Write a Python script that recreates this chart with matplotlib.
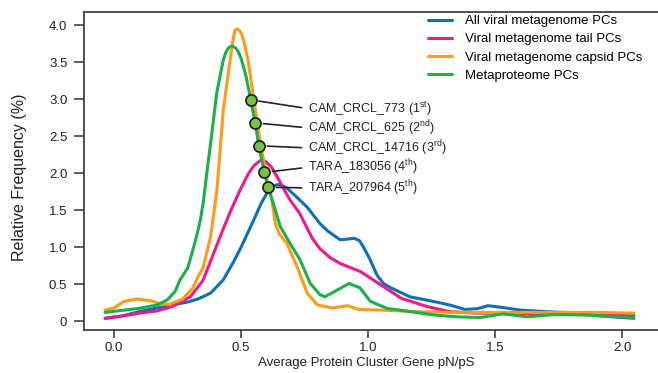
import matplotlib
matplotlib.use("Agg")
import matplotlib.pyplot as plt

plt.rcParams["font.family"] = ["Liberation Sans", "DejaVu Sans"]
plt.rcParams["mathtext.fontset"] = "custom"
plt.rcParams["mathtext.rm"] = "Liberation Sans"

# data
all_x = [-0.035, 0.03, 0.10, 0.17, 0.23, 0.29, 0.33, 0.38, 0.43, 0.47, 0.50, 0.55,
         0.58, 0.61, 0.625, 0.645, 0.66, 0.68, 0.73, 0.76, 0.81, 0.84, 0.89, 0.92,
         0.945, 0.965, 0.98, 1.005, 1.035, 1.06, 1.09, 1.165, 1.26, 1.32, 1.38,
         1.43, 1.47, 1.52, 1.6, 1.7, 1.81, 1.92, 2.045]
all_y = [0.04, 0.07, 0.13, 0.18, 0.22, 0.26, 0.30, 0.38, 0.56, 0.80, 1.00, 1.37,
         1.60, 1.78, 1.83, 1.845, 1.835, 1.80, 1.64, 1.54, 1.32, 1.22, 1.10, 1.11,
         1.12, 1.09, 1.01, 0.85, 0.62, 0.51, 0.45, 0.33, 0.265, 0.22, 0.16,
         0.17, 0.21, 0.19, 0.15, 0.13, 0.11, 0.07, 0.04]

tail_x = [-0.035, 0.05, 0.10, 0.17, 0.23, 0.30, 0.35, 0.39, 0.43, 0.46, 0.50, 0.53,
          0.55, 0.575, 0.595, 0.62, 0.65, 0.69, 0.73, 0.78, 0.81, 0.85, 0.89, 0.97,
          1.05, 1.13, 1.23, 1.32, 1.42, 1.55, 1.7, 1.85, 2.045]
tail_y = [0.04, 0.08, 0.11, 0.14, 0.20, 0.33, 0.55, 0.90, 1.25, 1.50, 1.80, 2.00,
          2.10, 2.17, 2.16, 2.08, 1.90, 1.65, 1.46, 1.12, 0.98, 0.86, 0.78, 0.67,
          0.49, 0.31, 0.20, 0.13, 0.11, 0.11, 0.10, 0.09, 0.08]

capsid_x = [-0.035, 0.00, 0.04, 0.09, 0.14, 0.19, 0.22, 0.27, 0.31, 0.335, 0.35,
            0.38, 0.405, 0.43, 0.457, 0.468, 0.476, 0.485, 0.495, 0.503, 0.515,
            0.529, 0.548, 0.568, 0.588, 0.605, 0.62, 0.635, 0.65, 0.68, 0.72,
            0.76, 0.80, 0.86, 0.92, 0.96, 1.06, 1.19, 1.32, 1.5, 1.7, 1.9, 2.045]
capsid_y = [0.15, 0.18, 0.27, 0.30, 0.28, 0.23, 0.23, 0.30, 0.45, 0.63, 0.72,
            1.14, 1.77, 2.86, 3.53, 3.80, 3.93, 3.95, 3.92, 3.87, 3.72,
            3.49, 3.04, 2.58, 2.18, 1.85, 1.65, 1.32, 1.18, 1.05, 0.74,
            0.38, 0.22, 0.18, 0.21, 0.16, 0.15, 0.13, 0.12, 0.12, 0.12, 0.12, 0.11]

meta_x = [-0.035, 0.10, 0.17, 0.21, 0.24, 0.26, 0.29, 0.31, 0.325, 0.34, 0.353,
          0.365, 0.38, 0.404, 0.43, 0.44, 0.45, 0.46, 0.47, 0.48, 0.489, 0.50,
          0.509, 0.52, 0.538, 0.555, 0.57, 0.591, 0.606, 0.627, 0.654, 0.693,
          0.732, 0.772, 0.81, 0.83, 0.877, 0.925, 0.968, 1.008, 1.073, 1.165,
          1.257, 1.35, 1.44, 1.53, 1.625, 1.73, 1.86, 2.045]
meta_y = [0.12, 0.175, 0.22, 0.29, 0.40, 0.56, 0.72, 0.96, 1.15, 1.37, 1.65,
          2.00, 2.40, 3.08, 3.53, 3.63, 3.69, 3.715, 3.71, 3.685, 3.64, 3.55,
          3.44, 3.30, 2.99, 2.68, 2.37, 2.01, 1.81, 1.59, 1.28, 1.05,
          0.83, 0.51, 0.36, 0.33, 0.42, 0.51, 0.45, 0.27, 0.175, 0.13,
          0.085, 0.06, 0.05, 0.10, 0.06, 0.09, 0.085, 0.05]

top_names = ["CAM_CRCL_773 (1$^{\\mathrm{st}}$)", "CAM_CRCL_625 (2$^{\\mathrm{nd}}$)",
             "CAM_CRCL_14716 (3$^{\\mathrm{rd}}$)", "TARA_183056 (4$^{\\mathrm{th}}$)",
             "TARA_207964 (5$^{\\mathrm{th}}$)"]
top_x = [0.538, 0.555, 0.57, 0.591, 0.606]
top_y = [2.99, 2.68, 2.37, 2.01, 1.81]
label_y = [2.87, 2.61, 2.34, 2.08, 1.80]

series = [
    (all_x, all_y, "All viral metagenome PCs", "#0b6fba"),
    (tail_x, tail_y, "Viral metagenome tail PCs", "#f0188c"),
    (capsid_x, capsid_y, "Viral metagenome capsid PCs", "#ff9a1a"),
    (meta_x, meta_y, "Metaproteome PCs", "#1bb04a"),
]

fig = plt.figure(figsize=(6.58, 3.73), dpi=100)
ax = fig.add_axes([84 / 658, 1 - 330 / 373, 574 / 658, 318.3 / 373])

for xs, ys, name, col in series:
    ax.plot(xs, ys, color=col, lw=2.2, label=name,
            solid_capstyle="round", solid_joinstyle="round")

ax.plot(top_x, top_y, "o", ms=8, mfc="#76c043", mec="#1a1a1a", mew=1.2, zorder=5)

for name, x, y, ly in zip(top_names, top_x, top_y, label_y):
    ax.annotate(name, xy=(x, y), xytext=(0.765, ly), fontsize=9, va="center",
                ha="left", color="#222222",
                arrowprops=dict(arrowstyle="-", color="#222222", lw=1.2,
                                shrinkA=3, shrinkB=6, relpos=(0, 0.5)))

ax.set_xlim(-0.118, 2.14)
ax.set_ylim(-0.118, 4.18)
ax.set_xticks([0.0, 0.5, 1.0, 1.5, 2.0])
ax.set_xticklabels(["0.0", "0.5", "1.0", "1.5", "2.0"])
ax.set_yticks([0, 0.5, 1.0, 1.5, 2.0, 2.5, 3.0, 3.5, 4.0])
ax.set_yticklabels(["0", "0.5", "1.0", "1.5", "2.0", "2.5", "3.0", "3.5", "4.0"])

for side in ["left", "bottom", "top"]:
    ax.spines[side].set_color("#333333")
    ax.spines[side].set_linewidth(1.2)
ax.spines["right"].set_visible(False)
ax.tick_params(axis="y", length=7, width=1.1, pad=5, labelsize=9.5,
               color="#333333", labelcolor="#222222")
ax.tick_params(axis="x", length=6, width=1.1, pad=2.5, labelsize=9.5,
               color="#333333", labelcolor="#222222")

ax.set_xlabel("Average Protein Cluster Gene pN/pS", fontsize=9.5, color="#222222")
ax.set_ylabel("Relative Frequency (%)", fontsize=11.5, color="#222222")
ax.xaxis.set_label_coords(0.4925, -0.085)
ax.yaxis.set_label_coords(-0.1, 0.48)

ax.legend(loc="upper left", bbox_to_anchor=(427.7 / 658, 1 - 15 / 373),
          bbox_transform=fig.transFigure, frameon=False, fontsize=9.5,
          handlelength=1.85, handletextpad=1.0, labelspacing=0.45,
          borderpad=0, borderaxespad=0)

fig.savefig("out.png", dpi=100)
